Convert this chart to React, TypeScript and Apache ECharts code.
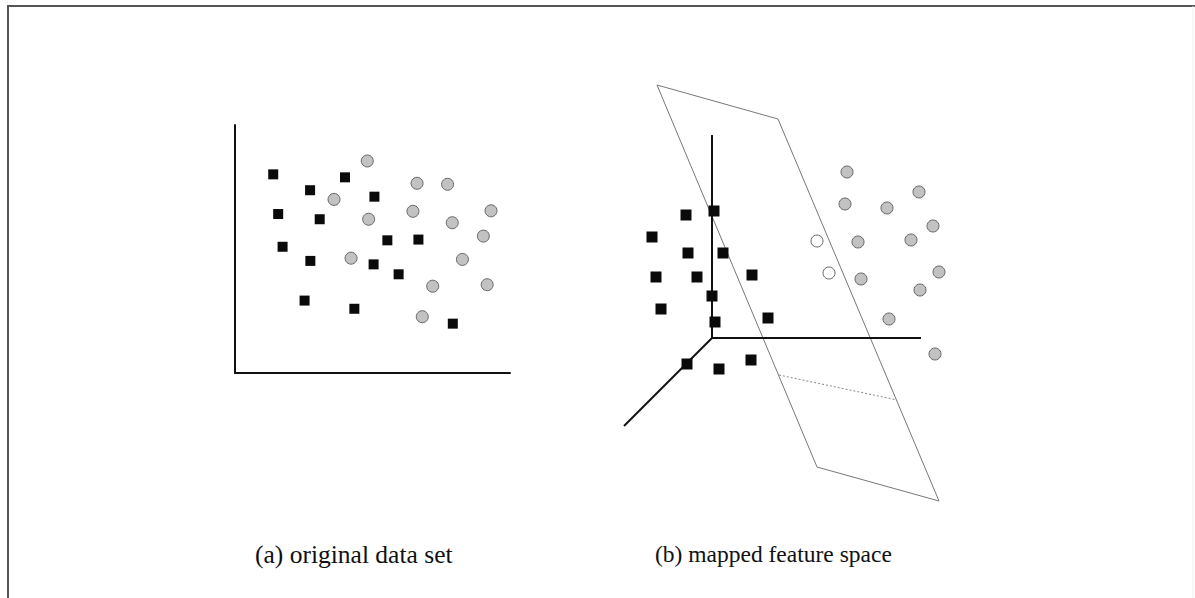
import React, { useEffect, useRef } from "react";
import * as echarts from "echarts";

// ---- Panel (a): original data set (x, y in 0..100 units) ----
const leftSquares: number[][] = [
  [13.9, 80.1], [40.0, 78.9], [27.3, 73.7], [50.7, 71.1], [15.7, 64.1],
  [30.8, 62.0], [55.4, 53.5], [66.7, 53.8], [17.3, 50.9], [27.4, 45.2],
  [50.4, 43.8], [59.5, 39.8], [25.3, 29.2], [43.4, 25.9], [79.2, 19.9],
];
const leftCircles: number[][] = [
  [48.1, 85.5], [36.0, 70.0], [66.2, 76.5], [77.3, 76.1], [48.6, 62.0],
  [64.7, 65.2], [79.0, 60.6], [93.1, 65.4], [90.3, 55.2], [42.2, 46.3],
  [82.7, 45.8], [71.9, 35.0], [91.7, 35.6], [68.1, 22.7],
];

// ---- Panel (b): mapped feature space (projected units) ----
const rightSquares: number[][] = [
  [114, 309], [86, 305], [52, 283], [88, 267], [123, 267],
  [56, 243], [97, 243], [152, 245], [112, 224], [61, 211],
  [115, 198], [168, 202], [87, 156], [119, 151], [151, 160],
];
const rightCircles: number[][] = [
  [247, 348], [319, 328], [245, 316], [287, 312], [333, 294],
  [258, 278], [311, 280], [339, 248], [261, 241], [320, 230],
  [289, 201], [335, 166],
];
const rightOpenCircles: number[][] = [[217, 279], [229, 247]];

const axisOrigin = [112, 182];
const axisUp = [112, 385];
const axisRight = [321, 182];
const axisDepth = [24, 94];
const planeCorners: number[][] = [[57, 435], [178, 401], [339, 19], [217, 53]];
const hiddenEdge: number[][] = [[179, 145], [297, 120]];

const captions = ["(a) original data set", "(b) mapped feature space"];

export default function App() {
  const ref = useRef<HTMLDivElement>(null);
  useEffect(() => {
    if (!ref.current) return;
    const chart = echarts.init(ref.current, null, { renderer: "svg" });
    const squareStyle = { color: "#0a0a0a", opacity: 1 };
    const circleStyle = { color: "#c2c2c2", borderColor: "#666666", borderWidth: 1, opacity: 1 };
    const openStyle = { color: "#ffffff", borderColor: "#666666", borderWidth: 1, opacity: 1 };
    const seg = (pts: number[][], style: any, z = 1) => ({
      type: "line",
      xAxisIndex: 1,
      yAxisIndex: 1,
      data: pts,
      showSymbol: false,
      symbol: "none",
      silent: true,
      z,
      lineStyle: style,
    });
    const axisCommon = {
      type: "value",
      axisTick: { show: false },
      axisLabel: { show: false },
      splitLine: { show: false },
    };
    chart.setOption({
      animation: false,
      backgroundColor: "#ffffff",
      grid: [
        { left: 235, top: 125, width: 275, height: 248 },
        { left: 600, top: 70, width: 350, height: 450 },
      ],
      xAxis: [
        { ...axisCommon, gridIndex: 0, min: 0, max: 100, axisLine: { show: true, onZero: false, lineStyle: { color: "#111", width: 2 } } },
        { ...axisCommon, gridIndex: 1, min: 0, max: 350, show: false },
      ],
      yAxis: [
        { ...axisCommon, gridIndex: 0, min: 0, max: 100, axisLine: { show: true, onZero: false, lineStyle: { color: "#111", width: 2 } } },
        { ...axisCommon, gridIndex: 1, min: 0, max: 450, show: false },
      ],
      graphic: [
        { type: "line", shape: { x1: 7, y1: 6, x2: 1195, y2: 6 }, style: { stroke: "#555", lineWidth: 2 } },
        { type: "line", shape: { x1: 8, y1: 5, x2: 8, y2: 598 }, style: { stroke: "#555", lineWidth: 2 } },
        { type: "line", shape: { x1: 1193, y1: 6, x2: 1193, y2: 598 }, style: { stroke: "#eeeeee", lineWidth: 1 } },
        { type: "text", left: 255, top: 541, style: { text: captions[0], font: "25.5px 'Liberation Serif'", fill: "#111" } },
        { type: "text", left: 655, top: 542, style: { text: captions[1], font: "23.5px 'Liberation Serif'", fill: "#111" } },
      ],
      series: [
        { type: "scatter", xAxisIndex: 0, yAxisIndex: 0, symbol: "rect", symbolSize: 10, data: leftSquares, itemStyle: squareStyle, z: 5 },
        { type: "scatter", xAxisIndex: 0, yAxisIndex: 0, symbol: "circle", symbolSize: 12, data: leftCircles, itemStyle: circleStyle, z: 5 },
        seg(planeCorners.concat([planeCorners[0]]), { color: "#777", width: 1 }, 2),
        seg(hiddenEdge, { color: "#888", width: 1, type: [2, 2] }, 2),
        seg([axisOrigin, axisUp], { color: "#111", width: 2 }, 3),
        seg([axisOrigin, axisRight], { color: "#111", width: 2 }, 3),
        seg([axisOrigin, axisDepth], { color: "#111", width: 2 }, 3),
        { type: "scatter", xAxisIndex: 1, yAxisIndex: 1, symbol: "rect", symbolSize: 11, data: rightSquares, itemStyle: squareStyle, z: 5 },
        { type: "scatter", xAxisIndex: 1, yAxisIndex: 1, symbol: "circle", symbolSize: 12, data: rightCircles, itemStyle: circleStyle, z: 5 },
        { type: "scatter", xAxisIndex: 1, yAxisIndex: 1, symbol: "circle", symbolSize: 12, data: rightOpenCircles, itemStyle: openStyle, z: 5 },
      ],
    });
    return () => chart.dispose();
  }, []);
  return <div ref={ref} style={{ position: "fixed", left: 0, top: 0, width: 1195, height: 598 }} />;
}
